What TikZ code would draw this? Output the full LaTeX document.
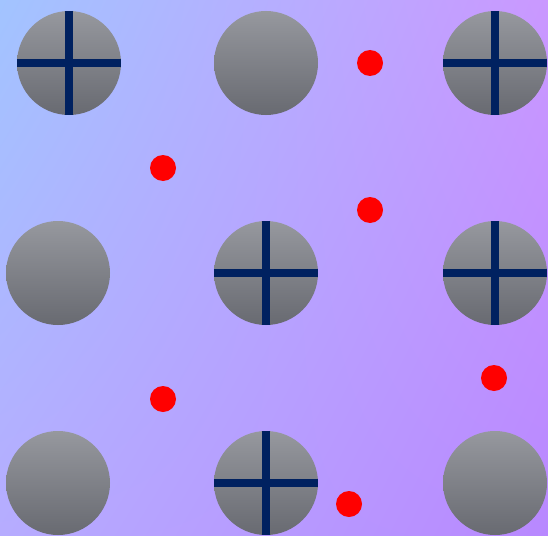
\documentclass[tikz,border=0pt]{standalone}
\usetikzlibrary{calc,shadings}
\definecolor{bgTL}{RGB}{162,196,255}
\definecolor{bgTR}{RGB}{202,152,255}
\definecolor{bgBL}{RGB}{182,172,255}
\definecolor{bgBR}{RGB}{184,136,255}
\definecolor{ballTop}{RGB}{150,152,158}
\definecolor{ballBot}{RGB}{104,106,113}
\definecolor{crossC}{RGB}{0,33,96}
\definecolor{dotC}{RGB}{255,0,0}
\tikzset{
  ball/.style={circle, inner sep=0pt, minimum size=104pt, top color=ballTop, bottom color=ballBot, draw=none},
  reddot/.style={circle, inner sep=0pt, minimum size=26pt, fill=dotC, draw=none},
  crossbar/.style={draw=crossC, line width=8pt, line cap=butt}
}
\begin{document}
\begin{tikzpicture}[x=1pt,y=-1pt]
\useasboundingbox (0,0) rectangle (548,535);
\shade[upper left=bgTL, upper right=bgTR, lower left=bgBL, lower right=bgBR] (0,0) rectangle (548,535);
% balls
\node[ball] (b11) at (69,63) {};
\node[ball] (b12) at (266,63) {};
\node[ball] (b13) at (495,63) {};
\node[ball] (b21) at (58,273) {};
\node[ball] (b22) at (266,273) {};
\node[ball] (b23) at (495,273) {};
\node[ball] (b31) at (58,483) {};
\node[ball] (b32) at (266,483) {};
\node[ball] (b33) at (495,483) {};
% crosses
\foreach \b in {b11,b13,b22,b23,b32}{
  \draw[crossbar] (\b.north) -- (\b.south);
  \draw[crossbar] (\b.west) -- (\b.east);
}
% red dots
\node[reddot] (r1) at (370,63) {};
\node[reddot] (r2) at (163,168) {};
\node[reddot] (r3) at (370,210) {};
\node[reddot] (r4) at (163,399) {};
\node[reddot] (r5) at (494,378) {};
\node[reddot] (r6) at (349,504) {};
\end{tikzpicture}
\end{document}
